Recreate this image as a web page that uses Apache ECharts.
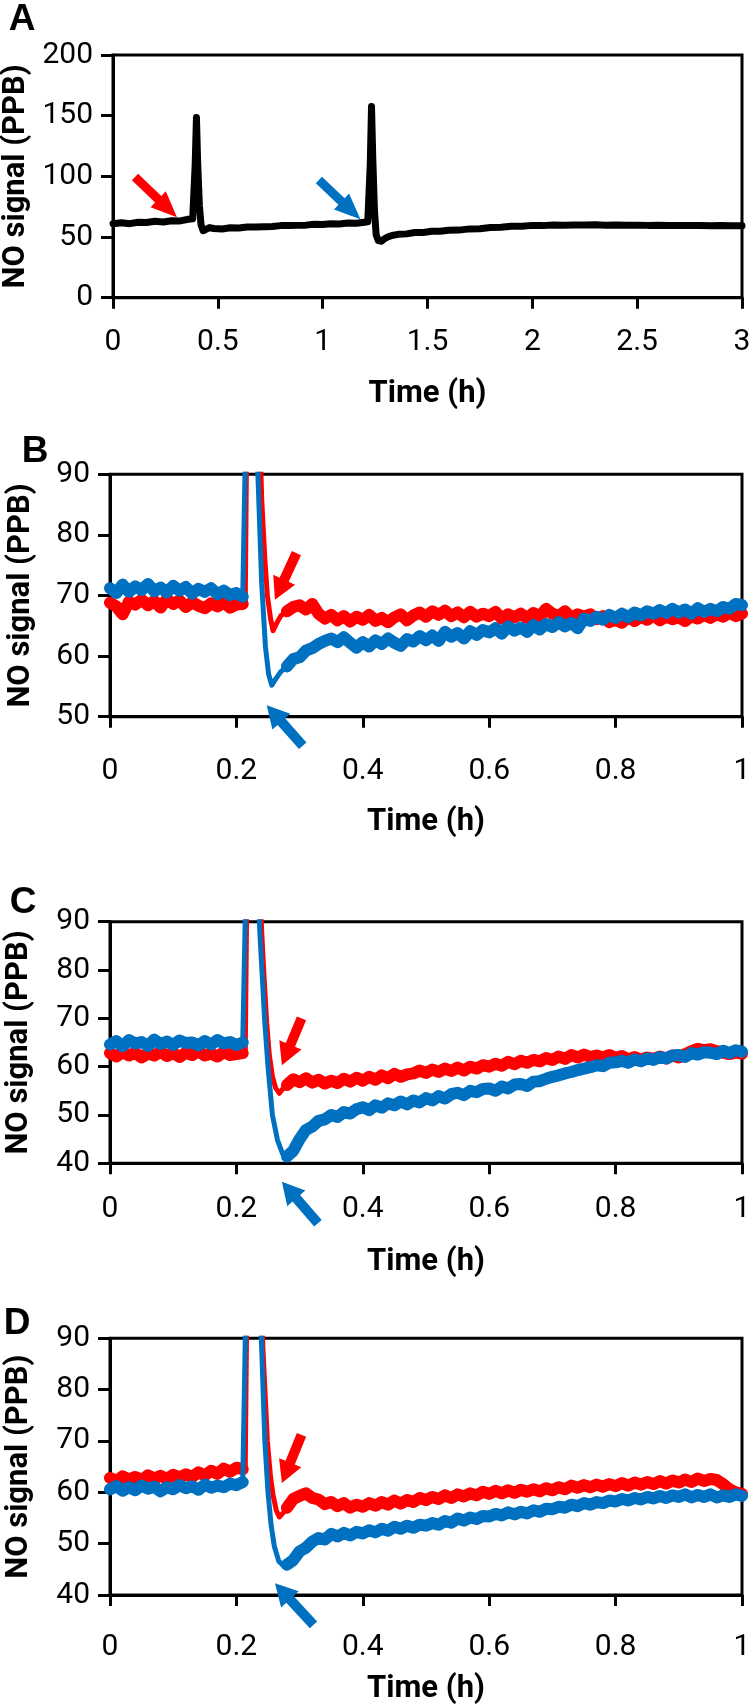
<!DOCTYPE html>
<html><head><meta charset="utf-8">
<script src="https://cdn.jsdelivr.net/npm/echarts@6/dist/echarts.min.js"></script>
<style>html,body{margin:0;padding:0;background:#fff}#c{width:750px;height:1708px}</style>
</head><body><div id="c"></div>
<script>
// ---------- Panel A (3 h trace) ----------
const tA = [0,0.04,0.08,0.12,0.16,0.2,0.24,0.28,0.32,0.36,0.38,0.385,0.392,0.398,0.404,0.412,0.42,0.43,0.44,0.46,0.48,0.52,0.56,0.6,0.64,0.68,0.72,0.76,0.8,0.84,0.88,0.92,0.96,1.0,1.04,1.08,1.12,1.16,1.2,1.215,1.22,1.227,1.233,1.239,1.247,1.255,1.265,1.28,1.295,1.31,1.33,1.36,1.4,1.44,1.48,1.52,1.56,1.6,1.65,1.7,1.75,1.8,1.85,1.9,1.95,2.0,2.05,2.1,2.15,2.2,2.25,2.3,2.35,2.4,2.45,2.5,2.55,2.6,2.65,2.7,2.75,2.8,2.85,2.9,2.95,3.0];
const yA = [61.0,61.8,61.0,62.2,62.0,63.0,62.4,63.4,63.3,64.6,65.0,66,110,148.5,110,76,60,55.2,56.0,57.8,57.0,56.6,57.6,57.4,58.2,58.2,58.5,58.7,59.4,59.4,59.6,59.8,60.5,60.3,61.0,60.8,61.6,61.3,62.2,62.5,63,110,157.5,115,72,52,47,46.5,48.5,50.0,51.3,52.2,52.6,53.7,53.8,54.8,54.8,55.6,55.7,56.7,56.8,57.8,58.0,58.8,58.8,59.6,59.4,60.0,59.8,60.0,59.9,60.1,59.8,59.9,59.7,59.8,59.6,59.7,59.5,59.6,59.4,59.5,59.3,59.4,59.2,59.3];

// ---------- Panels B-D (1 h traces) ----------
const tPre = [0,0.01,0.02,0.03,0.04,0.05,0.06,0.07,0.08,0.09,0.10,0.11,0.12,0.13,0.14,0.15,0.16,0.17,0.18,0.19,0.20,0.21];
const tPost = [0.28,0.29,0.30,0.31,0.32,0.33,0.34,0.35,0.36,0.37,0.38,0.39,0.40,0.41,0.42,0.43,0.44,0.45,0.46,0.47,0.48,0.49,0.50,0.51,0.52,0.53,0.54,0.55,0.56,0.57,0.58,0.59,0.60,0.61,0.62,0.63,0.64,0.65,0.66,0.67,0.68,0.69,0.70,0.71,0.72,0.73,0.74,0.75,0.76,0.77,0.78,0.79,0.80,0.81,0.82,0.83,0.84,0.85,0.86,0.87,0.88,0.89,0.90,0.91,0.92,0.93,0.94,0.95,0.96,0.97,0.98,0.99,1.00];

// B
const bRedPre = [68.8,68.2,66.9,69.0,68.5,69.3,68.4,69.1,68.0,69.4,68.6,69.2,68.1,68.9,68.3,67.9,68.7,68.2,68.9,68.0,68.5,68.6];
const bRedSpike = [[0.214,68.5],[0.219,130],[0.225,150],[0.233,112],[0.240,86],[0.245,76],[0.249,70],[0.254,66.2],[0.258,64.2],[0.263,65.3],[0.270,66.6]];
const bRedPost = [67.4,68.1,68.4,67.7,68.6,67.0,66.2,66.8,65.9,66.6,65.7,66.5,66.0,66.8,65.8,66.3,65.6,66.4,66.9,65.9,66.7,67.2,66.5,67.4,66.8,67.5,66.6,67.2,66.4,67.3,66.5,67.0,66.6,67.3,66.2,66.9,66.4,67.0,66.3,67.1,66.5,67.8,67.0,66.6,67.4,66.3,66.9,66.5,66.9,66.1,66.6,65.6,66.0,65.5,66.4,65.8,66.5,66.0,66.7,65.9,66.5,66.1,66.4,65.8,66.6,66.2,66.8,66.3,66.9,66.5,67.2,66.6,67.0];
const bBluePre = [71.2,70.4,71.8,70.6,71.5,70.9,71.9,70.7,71.3,70.5,71.6,70.8,71.4,70.3,71.1,70.6,71.2,70.2,70.8,70.1,70.4,69.8];
const bBlueSpike = [[0.213,69.8],[0.217,110],[0.222,150],[0.228,122],[0.234,90],[0.240,72],[0.246,61.5],[0.251,57],[0.256,55.2],[0.262,56.2],[0.270,57.4]];
const bBluePost = [58.3,59.5,59.8,60.9,61.3,62.0,62.5,62.9,62.3,63.1,62.2,61.4,62.3,61.6,62.6,62.0,62.9,62.2,61.7,62.8,62.4,63.3,62.6,63.4,62.5,64.0,63.2,63.8,62.9,64.1,63.5,64.3,63.9,64.6,63.7,64.9,64.2,64.7,64.0,65.1,64.4,65.3,64.8,65.6,64.9,65.5,64.6,66.2,65.8,66.5,66.0,66.8,66.3,67.0,66.4,67.2,66.7,67.4,67.0,67.6,67.1,67.8,67.2,67.7,67.0,67.9,67.3,67.8,67.4,68.1,67.8,68.6,68.4];

// C
const cRedPre = [62.8,62.1,63.0,62.3,62.9,61.9,62.7,62.3,63.1,62.2,62.8,62.0,62.9,62.4,63.2,62.3,62.7,62.1,63.0,62.4,62.6,62.8];
const cRedSpike = [[0.214,62.6],[0.219,130],[0.225,150],[0.233,114],[0.240,88],[0.244,78],[0.248,69],[0.252,62.5],[0.257,58],[0.262,55.6],[0.268,54.5],[0.274,55.5]];
const cRedPost = [56.2,57.4,56.8,57.6,56.7,57.3,56.5,57.1,56.6,57.5,56.9,57.7,57.1,57.9,57.3,58.2,57.6,58.5,57.9,58.4,58.6,59.2,58.7,59.4,58.9,59.6,59.1,59.8,59.2,60.0,59.6,60.3,60.0,60.6,60.2,61.0,60.5,61.2,60.8,61.4,61.1,61.8,61.4,62.1,61.6,62.4,61.9,62.5,62.0,62.3,61.9,62.4,61.8,62.2,61.5,62.0,61.4,61.9,61.6,62.1,61.7,62.3,61.9,62.6,63.2,63.7,63.4,63.6,63.2,62.9,62.6,62.9,62.7];
const cBluePre = [64.6,65.3,64.2,65.5,64.8,65.1,64.3,65.6,64.7,65.2,64.5,65.4,64.9,65.0,64.4,65.3,64.6,65.5,64.8,65.1,64.5,65.0];
const cBlueSpike = [[0.213,65.0],[0.217,110],[0.222,150],[0.229,120],[0.237,88],[0.245,69],[0.250,60],[0.257,50],[0.265,44.8],[0.273,42.0]];
const cBluePost = [41.4,42.6,45.0,46.9,47.6,48.8,49.1,50.0,49.6,50.6,50.3,51.2,51.6,51.0,52.0,51.5,52.4,52.0,52.8,52.2,53.0,52.6,53.5,53.0,53.9,53.4,54.3,54.6,54.1,55.0,54.7,55.4,55.5,55.0,55.9,55.5,56.3,56.4,56.0,56.9,57.0,57.5,57.9,58.2,58.6,58.9,59.3,59.6,59.9,60.3,60.1,60.8,60.9,61.2,60.8,61.5,61.1,61.7,61.4,62.0,61.7,62.3,62.4,62.0,62.8,62.5,63.0,62.9,62.6,63.3,62.8,63.4,63.1];

// D
const dRedPre = [62.8,62.2,63.1,62.5,63.0,62.4,63.3,62.7,63.2,62.6,63.4,62.9,63.5,63.0,63.9,63.3,64.2,63.6,64.6,64.0,64.8,64.5];
const dRedSpike = [[0.214,64.6],[0.219,130],[0.225,150],[0.234,114],[0.242,88],[0.249,70],[0.254,63],[0.258,59.5],[0.263,56.5],[0.268,55.2],[0.274,56.0]];
const dRedPost = [57.0,58.7,59.3,59.8,58.9,58.6,57.7,58.1,57.3,57.9,57.0,57.6,57.2,57.9,57.4,58.1,57.6,58.4,57.8,58.5,58.1,58.9,58.5,59.1,58.7,59.4,58.9,59.6,59.2,59.8,59.4,60.1,59.7,60.3,59.8,60.4,59.9,60.5,60.1,60.6,60.2,60.8,60.4,61.0,60.6,61.3,60.9,61.4,61.0,61.5,61.1,61.6,61.2,61.8,61.3,61.9,61.5,62.0,61.6,62.2,61.7,62.3,61.9,62.5,62.0,62.7,62.2,62.6,62.4,61.6,60.6,60.0,59.7];
const dBluePre = [60.6,61.2,60.3,61.0,60.4,61.3,60.7,61.1,60.2,61.0,60.6,61.4,60.8,61.2,60.5,61.5,60.9,61.3,61.0,61.7,61.4,62.0];
const dBlueSpike = [[0.213,62.0],[0.217,110],[0.222,150],[0.229,122],[0.240,88],[0.245,70],[0.250,60],[0.255,53.5],[0.260,49.5],[0.267,46.6],[0.276,45.5]];
const dBluePost = [45.9,46.8,48.5,49.2,50.4,51.1,50.8,51.9,51.4,52.1,51.6,52.3,52.0,52.6,52.2,52.9,52.5,53.3,52.9,53.5,53.1,53.7,53.5,54.0,53.7,54.4,54.1,54.9,54.5,55.1,54.8,55.4,55.3,55.8,55.5,56.1,55.7,56.2,55.9,56.5,56.2,56.8,56.7,57.2,57.0,57.6,57.3,57.9,57.6,58.1,57.9,58.4,58.2,58.7,58.4,58.9,58.6,59.1,58.8,59.3,58.9,59.4,59.1,59.6,59.0,59.5,59.1,59.6,59.0,59.4,59.1,59.6,59.3];

// Arrows: [tail time, tail ppb, tip time, tip ppb]
const arrowsA = { red: [0.105, 99.5, 0.305, 66.3], blue: [0.982, 97, 1.18, 64.6] };
const arrowsB = { red: [0.295, 77, 0.261, 69.3], blue: [0.305, 45.2, 0.248, 51.9] };
const arrowsC = { red: [0.303, 70, 0.272, 60.3], blue: [0.329, 27.6, 0.272, 36.2] };
const arrowsD = { red: [0.303, 71.2, 0.272, 61.8], blue: [0.322, 34.2, 0.261, 42.3] };

// Axis ticks
const xTicksA = { min: 0, max: 3, interval: 0.5 };
const xTicksBCD = { min: 0, max: 1, interval: 0.2 };
const yTicksA = { min: 0, max: 200, interval: 50 };
const yTicksB = { min: 50, max: 90, interval: 10 };
const yTicksCD = { min: 40, max: 90, interval: 10 };

// ---------- styling ----------
const RED = '#FF0000', BLUE = '#0070C0', F = 'Roboto';
const grids = [
  { left: 113, top: 55, width: 629, height: 242.7 },
  { left: 110, top: 474.3, width: 632, height: 242.4 },
  { left: 110, top: 921.7, width: 632, height: 241.6 },
  { left: 110, top: 1338.3, width: 632, height: 256.7 }
].map(g => Object.assign({ show: true, borderColor: '#000', borderWidth: 3, containLabel: false, outerBoundsMode: 'none' }, g));

function xAx(gi, ticks, margin, nameGap) {
  return Object.assign({ type: 'value', gridIndex: gi,
    axisLine: { show: true, onZero: false, lineStyle: { color: '#000', width: 3 } },
    axisTick: { show: true, inside: false, length: 11, lineStyle: { color: '#000', width: 3 } },
    axisLabel: { color: '#000', fontFamily: F, fontSize: 30, margin: margin },
    splitLine: { show: false },
    name: 'Time (h)', nameLocation: 'middle', nameGap: nameGap,
    nameTextStyle: { color: '#000', fontFamily: F, fontWeight: 'bold', fontSize: 31 }
  }, ticks);
}
function yAx(gi, ticks, nameGap) {
  return Object.assign({ type: 'value', gridIndex: gi,
    axisLine: { show: true, onZero: false, lineStyle: { color: '#000', width: 3 } },
    axisTick: { show: true, inside: false, length: 12, lineStyle: { color: '#000', width: 3 } },
    axisLabel: { color: '#000', fontFamily: F, fontSize: 30, margin: 20 },
    splitLine: { show: false },
    name: 'NO signal (PPB)', nameLocation: 'middle', nameGap: nameGap,
    nameTextStyle: { color: '#000', fontFamily: F, fontWeight: 'bold', fontSize: 31 }
  }, ticks);
}

function pairs(ts, vs) { return ts.map((t, i) => [t, vs[i]]); }
function lineS(gi, data, color, width) {
  return { type: 'line', xAxisIndex: gi, yAxisIndex: gi, data: data, showSymbol: false, symbol: 'none',
    clip: true, silent: true, animation: false,
    lineStyle: { color: color, width: width, cap: 'round', join: 'round' } };
}
function traceSeries(gi, pre, spike, post, color) {
  const preD = pairs(tPre, pre), postD = pairs(tPost, post);
  const spikeD = [preD[preD.length - 1]].concat(spike, [postD[0]]);
  return [lineS(gi, preD, color, 12), lineS(gi, spikeD, color, 5), lineS(gi, postD, color, 12)];
}
function arrowSeries(gi, arrows, sw, hw, hl) {
  return { type: 'custom', xAxisIndex: gi, yAxisIndex: gi, clip: false, silent: true, animation: false, z: 10,
    data: [ { value: arrows.red, itemStyle: { color: RED } }, { value: arrows.blue, itemStyle: { color: BLUE } } ],
    renderItem: function (params, api) {
      const p0 = api.coord([api.value(0), api.value(1)]);
      const p1 = api.coord([api.value(2), api.value(3)]);
      const dx = p1[0] - p0[0], dy = p1[1] - p0[1];
      const L = Math.sqrt(dx * dx + dy * dy);
      const ux = dx / L, uy = dy / L, nx = -uy, ny = ux;
      const bx = p1[0] - ux * hl, by = p1[1] - uy * hl;
      const pts = [
        [p0[0] + nx * sw / 2, p0[1] + ny * sw / 2],
        [bx + nx * sw / 2, by + ny * sw / 2],
        [bx + nx * hw / 2, by + ny * hw / 2],
        [p1[0], p1[1]],
        [bx - nx * hw / 2, by - ny * hw / 2],
        [bx - nx * sw / 2, by - ny * sw / 2],
        [p0[0] - nx * sw / 2, p0[1] - ny * sw / 2]
      ];
      return { type: 'polygon', shape: { points: pts }, style: { fill: api.visual('color') } };
    }
  };
}

const letterFont = 'bold 37px "Liberation Sans"';
function letter(t, x, y) {
  return { type: 'text', x: x, y: y, style: { text: t, font: letterFont, fill: '#000',
    textAlign: 'center', textVerticalAlign: 'middle', align: 'center', verticalAlign: 'middle' } };
}

const series = [lineS(0, pairs(tA, yA), '#000', 7)]
  .concat(traceSeries(1, bRedPre, bRedSpike, bRedPost, RED))
  .concat(traceSeries(1, bBluePre, bBlueSpike, bBluePost, BLUE))
  .concat(traceSeries(2, cRedPre, cRedSpike, cRedPost, RED))
  .concat(traceSeries(2, cBluePre, cBlueSpike, cBluePost, BLUE))
  .concat(traceSeries(3, dRedPre, dRedSpike, dRedPost, RED))
  .concat(traceSeries(3, dBluePre, dBlueSpike, dBluePost, BLUE))
  .concat([
    arrowSeries(0, arrowsA, 9, 22, 26),
    arrowSeries(1, arrowsB, 10, 24, 22),
    arrowSeries(2, arrowsC, 10, 24, 22),
    arrowSeries(3, arrowsD, 10, 24, 22)
  ]);

const chart = echarts.init(document.getElementById('c'), null, { renderer: 'canvas', width: 750, height: 1708 });
chart.setOption({
  backgroundColor: '#fff',
  animation: false,
  grid: grids,
  xAxis: [ xAx(0, xTicksA, 30, 81), xAx(1, xTicksBCD, 40, 90), xAx(2, xTicksBCD, 31, 83), xAx(3, xTicksBCD, 37, 79) ],
  yAxis: [ yAx(0, yTicksA, 79), yAx(1, yTicksB, 73), yAx(2, yTicksCD, 75), yAx(3, yTicksCD, 75) ],
  series: series,
  graphic: [ letter('A', 22, 20), letter('B', 35, 452), letter('C', 23, 903), letter('D', 17, 1324) ]
});
</script></body></html>
